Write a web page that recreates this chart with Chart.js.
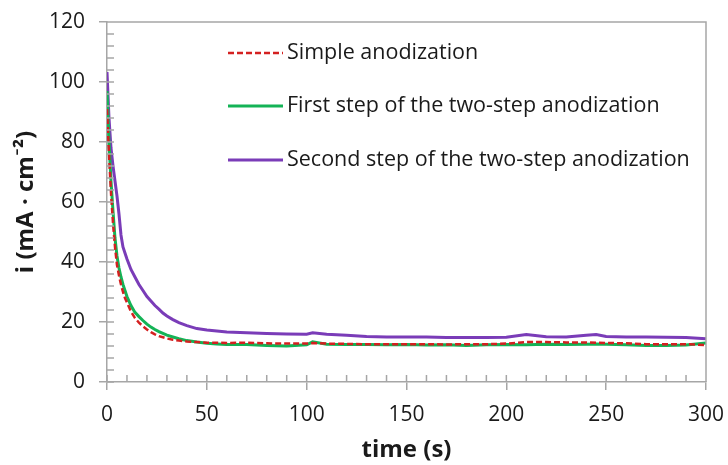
<!DOCTYPE html>
<html>
<head>
<meta charset="utf-8">
<script src="https://cdn.jsdelivr.net/npm/chart.js@4.4.0/dist/chart.umd.min.js"></script>
<style>
  html, body { margin: 0; padding: 0; background: #fff; }
  #wrap { width: 728px; height: 465px; }
</style>
</head>
<body>
<div id="wrap"><canvas id="chart"></canvas></div>
<script>
// time axis (s)
const times = [0,1,2,3,4,5,6,7,8,9,10,12,14,16,18,20,22,24,26,28,30,33,36,40,45,50,55,60,70,80,90,100,103,110,120,130,140,150,160,170,180,190,200,210,220,230,240,245,250,260,270,280,290,300];

// current density (mA/cm2)
const simpleAnod = [91,76,63,53,45,39,35.5,32.5,30,28,26.5,23.5,21.3,19.8,18.6,17.5,16.6,15.9,15.3,14.9,14.5,14.1,13.8,13.5,13.3,13.1,13.1,13,13.1,12.9,12.8,12.8,13,12.8,12.7,12.6,12.6,12.6,12.6,12.5,12.6,12.6,12.8,13.3,13.3,13.2,13.2,13.1,13,12.9,12.6,12.6,12.6,12.3];
const firstStep = [97,80,67,57,48,42,38,35,32.5,30.5,28.5,25.5,23.2,21.8,20.5,19.3,18.3,17.5,16.8,16.2,15.6,15,14.4,13.8,13.3,12.9,12.7,12.5,12.5,12.2,12,12.4,13.4,12.6,12.5,12.5,12.4,12.5,12.3,12.4,12.2,12.4,12.5,12.4,12.6,12.5,12.6,12.7,12.6,12.4,12.2,12.2,12.3,13];
const secondStep = [103.3,88,78,72,67,62,56,49,45,43,41,37.5,35,32.5,30.5,28.5,27,25.5,24.3,23,22,20.8,19.8,18.8,17.8,17.3,17,16.7,16.4,16.2,16,15.9,16.4,15.9,15.6,15.2,15,15,15,14.8,14.8,14.8,14.9,15.8,15.1,15,15.6,15.8,15.2,15,15,14.9,14.8,14.4];

const seriesNames = ['Simple anodization', 'First step of the two-step anodization', 'Second step of the two-step anodization'];

const xTicks = [0, 50, 100, 150, 200, 250, 300];
const yTicks = [0, 20, 40, 60, 80, 100, 120];

const axisGrey = '#a6a6a6';
const FONT = '"Open Sans", Lato, sans-serif';

function toPoints(arr) {
  return arr.map((v, i) => ({ x: times[i], y: v }));
}

// inner ticks, frame and in-plot legend
const framePlugin = {
  id: 'frame',
  afterDraw(chart) {
    const ctx = chart.ctx;
    const a = chart.chartArea;
    const xs = chart.scales.x, ys = chart.scales.y;
    ctx.save();
    ctx.strokeStyle = axisGrey;
    ctx.lineWidth = 1.5;
    ctx.beginPath();
    // top + right frame
    ctx.moveTo(a.left, a.top); ctx.lineTo(a.right, a.top); ctx.lineTo(a.right, a.bottom);
    // minor + inner part of major ticks
    for (let v = 0; v <= 120; v += 4) {
      const y = ys.getPixelForValue(v);
      ctx.moveTo(a.left, y); ctx.lineTo(a.left + 7, y);
    }
    for (let v = 0; v <= 300; v += 10) {
      const x = xs.getPixelForValue(v);
      ctx.moveTo(x, a.bottom); ctx.lineTo(x, a.bottom - 7);
    }
    ctx.stroke();

    // legend
    const rows = [53, 106, 160];
    ctx.font = '21.5px ' + FONT;
    ctx.textBaseline = 'middle';
    ctx.fillStyle = '#1a1a1a';
    chart.data.datasets.forEach((ds, i) => {
      const y = rows[i];
      ctx.strokeStyle = ds.borderColor;
      ctx.lineWidth = ds.borderWidth;
      ctx.setLineDash(ds.borderDash || []);
      ctx.beginPath();
      ctx.moveTo(228, y); ctx.lineTo(283, y);
      ctx.stroke();
      ctx.setLineDash([]);
      ctx.fillText(ds.label, 287, y);
    });
    ctx.restore();
  }
};

new Chart(document.getElementById('chart'), {
  type: 'line',
  data: {
    datasets: [
      { label: seriesNames[0], data: toPoints(simpleAnod), borderColor: '#d42020', borderWidth: 2.5, borderDash: [6, 3], order: 1 },
      { label: seriesNames[1], data: toPoints(firstStep), borderColor: '#14b356', borderWidth: 3, order: 2 },
      { label: seriesNames[2], data: toPoints(secondStep), borderColor: '#7a3cb8', borderWidth: 3, order: 3 }
    ]
  },
  options: {
    responsive: true,
    maintainAspectRatio: false,
    animation: false,
    events: [],
    layout: { padding: { top: 22, right: 22, left: 0, bottom: 0 } },
    elements: { point: { radius: 0 }, line: { tension: 0 } },
    plugins: { legend: { display: false }, tooltip: { enabled: false } },
    scales: {
      x: {
        type: 'linear', min: 0, max: 300,
        afterBuildTicks(s) { s.ticks = xTicks.map(v => ({ value: v })); },
        afterFit(s) { s.height = 83; s.paddingLeft = 0; s.paddingRight = 0; },
        ticks: { color: '#1a1a1a', font: { family: FONT, size: 21 }, padding: 12, maxRotation: 0 },
        grid: { drawOnChartArea: false, tickLength: 8, color: axisGrey, lineWidth: 1.5 },
        border: { color: axisGrey, width: 1.5 },
        title: { display: true, text: 'time (s)', color: '#1a1a1a', font: { family: FONT, size: 24, weight: 'bold' }, padding: 0 }
      },
      y: {
        type: 'linear', min: 0, max: 120,
        afterBuildTicks(s) { s.ticks = yTicks.map(v => ({ value: v })); },
        afterFit(s) { s.width = 107; s.paddingTop = 0; s.paddingBottom = 0; },
        ticks: { color: '#1a1a1a', font: { family: FONT, size: 21 }, padding: 14 },
        grid: { drawOnChartArea: false, tickLength: 8, color: axisGrey, lineWidth: 1.5 },
        border: { color: axisGrey, width: 1.5 },
        title: { display: true, text: 'i (mA · cm⁻²)', color: '#1a1a1a', font: { family: FONT, size: 24, weight: 'bold' }, padding: 12 }
      }
    }
  },
  plugins: [framePlugin]
});
</script>
</body>
</html>
